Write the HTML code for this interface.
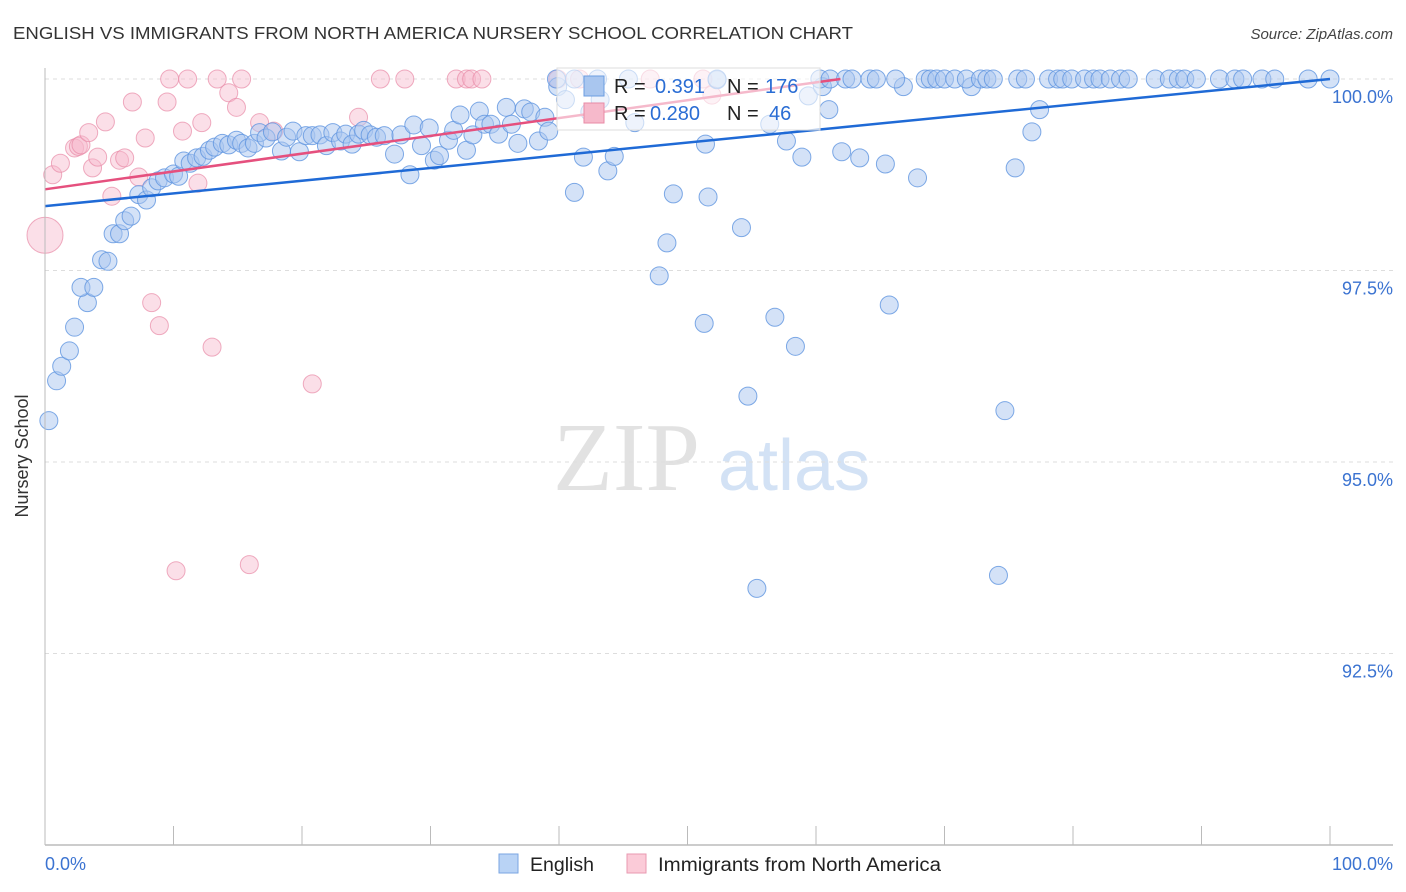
<!DOCTYPE html>
<html><head><meta charset="utf-8"><style>
body{margin:0;background:#fff;width:1406px;height:892px;overflow:hidden;font-family:"Liberation Sans",sans-serif}
svg{position:absolute;left:0;top:0}
</style></head><body>
<svg id="chart" width="1406" height="892">
<text x="13" y="39" font-size="17.5" fill="#333" textLength="840" lengthAdjust="spacingAndGlyphs">ENGLISH VS IMMIGRANTS FROM NORTH AMERICA NURSERY SCHOOL CORRELATION CHART</text>
<text x="1393" y="39" font-size="15" font-style="italic" fill="#444" text-anchor="end">Source: ZipAtlas.com</text>
<text x="28" y="456" font-size="18" fill="#333" text-anchor="middle" transform="rotate(-90 28 456)">Nursery School</text>
<g>
<text x="553" y="490" font-family="Liberation Serif,serif" font-size="98" fill="#e2e2e2">ZIP</text>
<text x="718" y="490" font-size="72" fill="#d3e2f5">atlas</text>
</g>
<g id="grid"></g><g id="pts"></g><g id="lines"></g><g id="axes"></g>
<g>
<rect x="557" y="68" width="263" height="62" fill="#fff" fill-opacity="0.6" stroke="#ddd"/>
<rect x="584" y="76" width="20" height="20" fill="#a9c6ef" stroke="#6c9de0"/>
<rect x="584" y="103" width="20" height="20" fill="#f6b9cb" stroke="#e88aa6"/>
<text x="614" y="93" font-size="20" fill="#222">R = <tspan fill="#2a6dd4" x="655">0.391</tspan><tspan x="727" fill="#222">N =</tspan><tspan x="765" fill="#2a6dd4">176</tspan></text>
<text x="614" y="120" font-size="20" fill="#222">R = <tspan fill="#2a6dd4" x="650">0.280</tspan><tspan x="727" fill="#222">N =</tspan><tspan x="769" fill="#2a6dd4">46</tspan></text>
</g>
<g>
<rect x="499" y="854" width="19" height="19" fill="#b9d3f5" stroke="#7aa6e2"/>
<text x="530" y="871" font-size="19" fill="#222" textLength="64" lengthAdjust="spacingAndGlyphs">English</text>
<rect x="627" y="854" width="19" height="19" fill="#fbcbd8" stroke="#e89ab1"/>
<text x="658" y="871" font-size="19" fill="#222" textLength="283" lengthAdjust="spacingAndGlyphs">Immigrants from North America</text>
</g>
</svg>
<script>
const blueX=[0.3,0.9,1.3,1.9,2.3,3.3,2.8,3.8,4.4,4.9,5.3,5.8,6.2,6.7,7.3,7.9,8.3,8.8,9.3,10.0,10.4,10.8,11.3,11.8,12.3,12.8,13.2,13.8,14.3,14.9,15.3,15.8,16.3,16.7,17.2,17.7,18.4,18.8,19.3,19.8,20.3,20.8,21.4,21.9,22.4,23,23.4,23.9,24.4,24.8,25.3,25.8,26.4,27.2,27.7,28.4,28.7,29.3,29.9,30.3,30.7,31.4,31.8,32.3,32.8,33.3,33.8,34.2,34.7,35.3,35.9,36.3,36.8,37.3,37.8,38.4,38.9,39.2,39.9,40.5,41.2,41.9,42.4,43.2,43.8,44.3,45.9,47.8,48.4,48.9,51.3,51.4,51.6,52.3,54.2,54.7,55.4,56.4,56.8,57.7,58.4,58.9,59.4,60.5,61,62,63.4,65.4,65.7,66.8,67.9,72.1,74.2,74.7,75.5,76.8,77.4,
39.8,41.2,43,45.4,52.3,60.3,61.1,62.3,62.8,64.2,64.7,66.2,68.5,68.9,69.4,70,70.8,71.7,72.8,73.3,73.8,75.7,76.3,78.1,78.8,79.2,79.9,80.9,81.6,82.1,82.9,83.7,84.3,86.4,87.5,88.2,88.7,89.6,91.4,92.6,93.2,94.7,95.7,98.3,100];
const blueY=[95.54,96.06,96.25,96.45,96.76,97.08,97.28,97.28,97.64,97.62,97.98,97.98,98.15,98.21,98.49,98.42,98.58,98.67,98.71,98.76,98.73,98.93,98.9,98.97,98.99,99.07,99.11,99.16,99.14,99.2,99.16,99.1,99.16,99.3,99.23,99.31,99.06,99.24,99.32,99.05,99.26,99.26,99.27,99.13,99.3,99.19,99.28,99.15,99.28,99.33,99.27,99.24,99.26,99.02,99.27,98.75,99.4,99.13,99.36,98.94,99.0,99.2,99.33,99.53,99.07,99.27,99.58,99.41,99.41,99.28,99.63,99.41,99.16,99.61,99.57,99.19,99.5,99.32,99.9,99.73,98.52,98.98,99.57,99.73,98.8,98.99,99.43,97.43,97.86,98.5,96.81,99.15,98.46,99.99,98.06,95.86,93.35,99.41,96.89,99.19,96.51,98.98,99.78,99.9,99.6,99.05,98.97,98.89,97.05,99.9,98.71,99.9,93.52,95.67,98.84,99.31,99.6,
100,100,100,100,100,100,100,100,100,100,100,100,100,100,100,100,100,100,100,100,100,100,100,100,100,100,100,100,100,100,100,100,100,100,100,100,100,100,100,100,100,100,100,100,100];
const pinkX=[0,0.6,1.2,2.3,2.6,2.8,3.4,3.7,4.1,4.7,5.2,5.8,6.2,6.8,7.3,7.8,8.3,8.9,9.5,9.7,10.2,10.7,11.1,11.9,12.2,13,13.4,14.3,14.9,15.3,15.9,16.7,17.8,20.8,24.4,26.1,28,32,32.8,33.2,34,39.9,41.6,47.1,51.2,51.9];
const pinkY=[97.96,98.75,98.9,99.1,99.12,99.14,99.3,98.84,98.98,99.44,98.47,98.94,98.97,99.7,98.72,99.23,97.08,96.78,99.7,100,93.58,99.32,100,98.64,99.43,96.5,100,99.82,99.63,100,93.66,99.43,99.32,96.02,99.5,100,100,100,100,100,100,100,100,100,100,99.79];
const pinkSize=[18,9,9,9,9,9,9,9,9,9,9,9,9,9,9,9,9,9,9,9,9,9,9,9,9,9,9,9,9,9,9,9,9,9,9,9,9,9,9,9,9,9,9,9,9,9];
const trendBlue=[98.34,100.0];
const trendPink=[98.56,100.0,61.9];
const yTicks=[100,97.5,95,92.5];
const yTickLabels=["100.0%","97.5%","95.0%","92.5%"];
const xTickCount=10;

const X0=45,X1=1330,YTOP=79,PXPER=76.6;
const sx=v=>X0+(X1-X0)*v/100;
const sy=v=>YTOP+(100-v)*PXPER;
const NS="http://www.w3.org/2000/svg";
function mk(t,a,p){const e=document.createElementNS(NS,t);for(const k in a)e.setAttribute(k,a[k]);p.appendChild(e);return e;}
const grid=document.getElementById('grid'),pts=document.getElementById('pts'),lines=document.getElementById('lines'),axes=document.getElementById('axes');
yTicks.forEach((t,i)=>{
  const l=mk('line',{x1:X0,x2:1393,y1:sy(t),y2:sy(t),stroke:'#ddd','stroke-dasharray':'4,4'},grid);
  
  
  const tx=mk('text',{x:1393,y:sy(t)+24,'font-size':18,fill:'#3b73d1','text-anchor':'end'},axes);
  tx.textContent=yTickLabels[i];
  
  
});
mk('line',{x1:X0,x2:X0,y1:68,y2:845,stroke:'#bbb'},axes);
const xa=mk('line',{x1:X0,x2:1393,y1:845,y2:845,stroke:'#bbb','stroke-width':1.5},axes);


for(let i=0;i<=xTickCount;i++){const v=i*100/xTickCount;mk('line',{x1:sx(v),x2:sx(v),y1:826,y2:845,stroke:'#bbb'},axes);}
[[0,'0.0%','start',X0],[100,'100.0%','end',1393]].forEach(d=>{const t=mk('text',{x:d[3],y:870,'font-size':18,fill:'#3b73d1','text-anchor':d[2]},axes);t.textContent=d[1];

});
pinkX.forEach((x,i)=>{const c=mk('circle',{cx:sx(x),cy:sy(pinkY[i]),r:pinkSize[i],fill:'#f6b9cb','fill-opacity':0.45,stroke:'#e88aa6','stroke-opacity':0.7},pts);

});
blueX.forEach((x,i)=>{const c=mk('circle',{cx:sx(x),cy:sy(blueY[i]),r:9,fill:'#a9c6ef','fill-opacity':0.5,stroke:'#5f95e0','stroke-opacity':0.8},pts);

});
const lb=mk('line',{x1:sx(0),y1:sy(trendBlue[0]),x2:sx(100),y2:sy(trendBlue[1]),stroke:'#1f6ad6','stroke-width':2.5},lines);


const lp=mk('line',{x1:sx(0),y1:sy(trendPink[0]),x2:sx(trendPink[2]),y2:sy(trendPink[1]),stroke:'#e5507e','stroke-width':2.5},lines);


</script>
</body></html>
